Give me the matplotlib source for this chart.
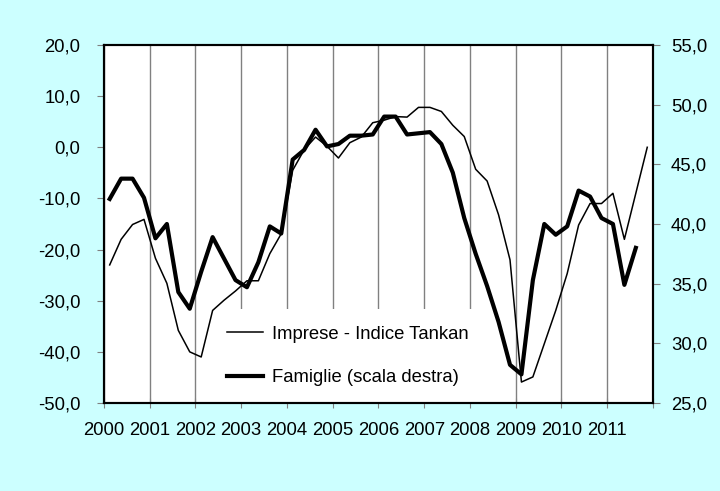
import matplotlib
matplotlib.use("Agg")
import matplotlib.pyplot as plt
import numpy as np

plt.rcParams['font.family'] = ['Liberation Sans', 'DejaVu Sans']

years = list(range(2000, 2012))
year_labels = [str(y) for y in years]

# indice Tankan (scala sinistra), trimestrale 2000Q1-2011Q4
tankan = [-23.0, -18.0, -15.1, -14.1,
          -21.7, -26.6, -35.8, -40.0,
          -41.0, -31.9, -29.9, -28.1,
          -26.1, -26.1, -20.8, -16.9,
          -4.5, -0.5, 2.0, 0.2,
          -2.1, 0.9, 2.0, 4.8,
          5.3, 6.0, 5.9, 7.8,
          7.8, 7.0, 4.3, 2.1,
          -4.3, -6.6, -13.2, -22.0,
          -45.9, -44.9, -38.4, -31.9,
          -24.7, -15.2, -11.0, -11.0,
          -9.0, -18.0, -9.0, 0.0]

# famiglie (scala destra), trimestrale 2000Q1-2011Q3
famiglie = [42.1, 43.8, 43.8, 42.2,
            38.8, 40.0, 34.3, 32.9,
            36.0, 38.9, 37.1, 35.3,
            34.7, 36.8, 39.8, 39.2,
            45.4, 46.2, 47.9, 46.5,
            46.7, 47.4, 47.4, 47.5,
            49.0, 49.0, 47.5, 47.6,
            47.7, 46.7, 44.3, 40.5,
            37.5, 34.8, 31.8, 28.2,
            27.4, 35.3, 40.0, 39.1,
            39.8, 42.8, 42.3, 40.5,
            40.0, 34.9, 38.0]

x_t = 2000 + (np.arange(len(tankan)) + 0.5) / 4
x_f = 2000 + (np.arange(len(famiglie)) + 0.5) / 4

bg = '#CCFFFF'
fs = 13.3
fig = plt.figure(figsize=(7.2, 4.91), dpi=100, facecolor=bg)
ax = fig.add_axes([0.1444, 0.1792, 0.7625, 0.7292])
ax.set_facecolor('white')
ax2 = ax.twinx()

l1, = ax.plot(x_t, tankan, color='black', lw=1.1, zorder=3,
              label='Imprese - Indice Tankan')
l2, = ax2.plot(x_f, famiglie, color='black', lw=3.0,
               label='Famiglie (scala destra)')

ax.set_xlim(2000, 2012)
ax.set_ylim(-50, 20)
ax2.set_ylim(25, 55)
ax.set_xticks(years + [2012])
ax.set_xticklabels(year_labels + [''])
ax.set_yticks(np.arange(-50, 21, 10))
ax.set_yticklabels([f'{v:.1f}'.replace('.', ',') for v in np.arange(-50, 21, 10)])
ax2.set_yticks(np.arange(25, 56, 5))
ax2.set_yticklabels([f'{v:.1f}'.replace('.', ',') for v in np.arange(25, 56, 5)])

ax.grid(axis='x', color='#808080', lw=1.0)
ax.set_axisbelow(True)

for a in (ax, ax2):
    for s in a.spines.values():
        s.set_linewidth(1.5)
        s.set_color('black')

ax.tick_params(axis='x', direction='inout', length=7, width=0.8, color='#808080',
               labelsize=fs, pad=10)
ax.tick_params(axis='y', direction='out', length=5, width=0.8, color='#808080',
               labelsize=fs, pad=12)
ax2.tick_params(axis='y', direction='out', length=5, width=0.8, color='#808080',
                labelsize=fs, pad=8)

leg = ax.legend(handles=[l1, l2], loc='lower left', bbox_to_anchor=(0.193, 0.0),
                borderaxespad=0, borderpad=0.9, frameon=True, facecolor='white',
                edgecolor='none', framealpha=1, fontsize=fs, handlelength=2.0,
                handletextpad=0.45, labelspacing=1.45)
leg.get_frame().set_boxstyle('square', pad=0)
leg.set_zorder(1)

fig.savefig('out.png', dpi=100, facecolor=bg)
